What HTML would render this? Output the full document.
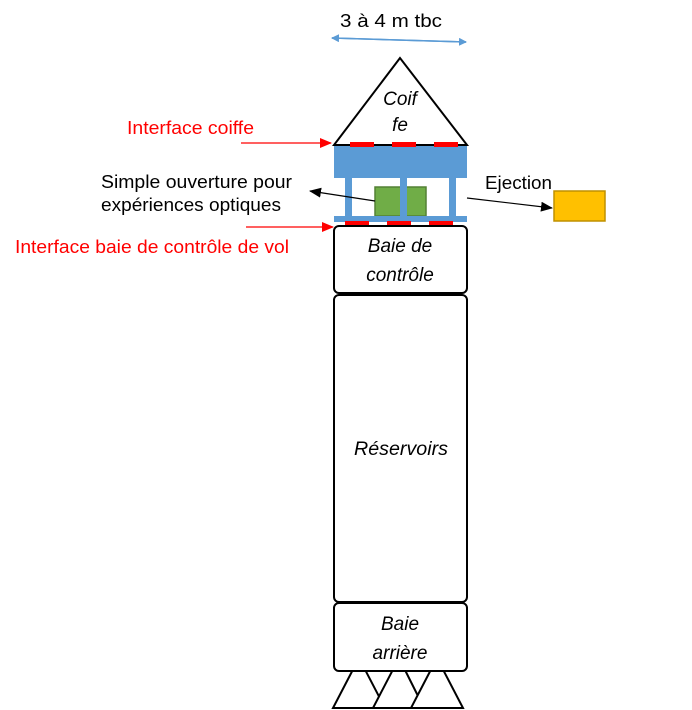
<!DOCTYPE html>
<html><head><meta charset="utf-8"><style>
html,body{margin:0;padding:0;background:#fff;}
svg{display:block;}
text{font-family:"Liberation Sans",sans-serif;}
</style></head><body>
<svg width="692" height="710" viewBox="0 0 692 710" xmlns="http://www.w3.org/2000/svg">
<defs>
<marker id="ab" markerWidth="8" markerHeight="8" refX="7" refY="4" orient="auto" markerUnits="userSpaceOnUse"><path d="M0,0 L8,4 L0,8 z" fill="#5b9bd5"/></marker>
<marker id="ar" markerWidth="12" markerHeight="10" refX="11" refY="5" orient="auto" markerUnits="userSpaceOnUse"><path d="M0,0 L12,5 L0,10 z" fill="#ff0000"/></marker>
<marker id="ak" markerWidth="12" markerHeight="10" refX="11" refY="5" orient="auto" markerUnits="userSpaceOnUse"><path d="M0,0 L12,5 L0,10 z" fill="#000"/></marker>
</defs>
<!-- top dimension -->
<text x="340" y="27" font-size="18" textLength="102" lengthAdjust="spacingAndGlyphs" fill="#000">3 à 4 m tbc</text>
<line x1="332" y1="38" x2="466" y2="42" stroke="#5b9bd5" stroke-width="1.5" marker-end="url(#ab)"/>
<line x1="466" y1="42" x2="332" y2="38" stroke="#5b9bd5" stroke-width="1.5" marker-end="url(#ab)"/>
<!-- coiffe -->
<polygon points="400,58 334,145 467,145" fill="#fff" stroke="#000" stroke-width="2"/>
<text x="400" y="105" font-size="19" font-style="italic" text-anchor="middle">Coif</text>
<text x="400" y="131" font-size="19" font-style="italic" text-anchor="middle">fe</text>
<!-- blue structure -->
<rect x="334" y="146" width="133" height="32" fill="#5b9bd5"/>
<rect x="345" y="178" width="7" height="40" fill="#5b9bd5"/>
<rect x="449" y="178" width="7" height="40" fill="#5b9bd5"/>
<rect x="375" y="187" width="51" height="29" fill="#70ad47" stroke="#538135" stroke-width="1.5"/>
<rect x="400" y="178" width="7" height="38" fill="#5b9bd5"/>
<rect x="334" y="216" width="133" height="6" fill="#5b9bd5"/>
<!-- red dashes -->
<g fill="#ff0000">
<rect x="350" y="142" width="24" height="5"/><rect x="392" y="142" width="24" height="5"/><rect x="434" y="142" width="24" height="5"/>
<rect x="345" y="221" width="24" height="5"/><rect x="387" y="221" width="24" height="5"/><rect x="429" y="221" width="24" height="5"/>
</g>
<!-- feet -->
<g fill="#fff" stroke="#000" stroke-width="2">
<polygon points="359,658 333,708 385,708"/>
<polygon points="399,658 373,708 424,708"/>
<polygon points="437,658 411,708 463,708"/>
</g>
<!-- boxes -->
<g fill="#fff" stroke="#000" stroke-width="2">
<rect x="334" y="226" width="133" height="67" rx="5"/>
<rect x="334" y="295" width="133" height="307" rx="5"/>
<rect x="334" y="603" width="133" height="68" rx="5"/>
</g>
<g font-size="19" font-style="italic" text-anchor="middle">
<text x="400" y="252">Baie de</text>
<text x="400" y="281">contrôle</text>
<text x="401" y="455" textLength="94" lengthAdjust="spacingAndGlyphs">Réservoirs</text>
<text x="400" y="630">Baie</text>
<text x="400" y="659">arrière</text>
</g>
<!-- labels -->
<text x="127" y="134" font-size="18" fill="#ff0000" textLength="127" lengthAdjust="spacingAndGlyphs">Interface coiffe</text>
<line x1="241" y1="143" x2="331" y2="143" stroke="#ff0000" stroke-width="1.2" marker-end="url(#ar)"/>
<text x="15" y="253" font-size="18" fill="#ff0000" textLength="274" lengthAdjust="spacingAndGlyphs">Interface baie de contrôle de vol</text>
<line x1="246" y1="227" x2="333" y2="227" stroke="#ff0000" stroke-width="1.2" marker-end="url(#ar)"/>
<text x="101" y="188" font-size="18" textLength="191" lengthAdjust="spacingAndGlyphs">Simple ouverture pour</text>
<text x="101" y="211" font-size="18" textLength="180" lengthAdjust="spacingAndGlyphs">expériences optiques</text>
<line x1="375" y1="201" x2="310" y2="191" stroke="#000" stroke-width="1.2" marker-end="url(#ak)"/>
<text x="485" y="189" font-size="18" textLength="67" lengthAdjust="spacingAndGlyphs">Ejection</text>
<line x1="467" y1="198" x2="552" y2="208" stroke="#000" stroke-width="1.2" marker-end="url(#ak)"/>
<rect x="554" y="191" width="51" height="30" fill="#ffc000" stroke="#bf9000" stroke-width="1.5"/>
</svg>
</body></html>
